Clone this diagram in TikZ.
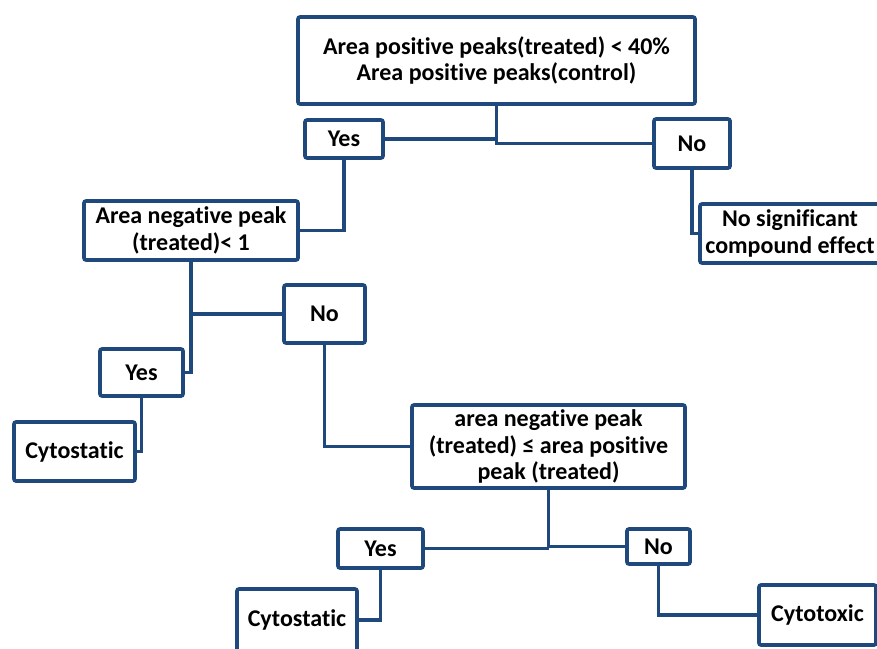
\documentclass[tikz,border=0pt]{standalone}
\usepackage{fontspec}
\setmainfont[Ligatures=NoCommon]{Carlito}
\usepackage{tikz}
\usepackage{xcolor}
\definecolor{boxblue}{RGB}{31,73,125}

\begin{document}
\begin{tikzpicture}[
    x=1pt, y=-1pt,
    decision/.style={
        draw=boxblue,
        line width=3.6pt,
        rounded corners=2pt,
        fill=white,
        inner sep=0pt,
        align=center,
        font=\bfseries\fontsize{24}{26.5}\selectfont
    },
    answer/.style={
        decision
    },
    outcome/.style={
        decision
    },
    branch/.style={draw=boxblue, line width=3.6pt}
]
    \useasboundingbox (0,0) rectangle (877,648);

    \node[decision, minimum width=397pt, minimum height=87pt] (posarea) at (496.5,60.5)
        {Area positive peaks(treated) {<} 40\%\\Area positive peaks(control)};
    \node[answer, minimum width=78pt, minimum height=38pt] (yesone) at (344,139) {Yes};
    \node[answer, minimum width=76pt, minimum height=49pt] (noone) at (692,143.5) {No};
    \node[outcome, minimum width=180pt, minimum height=59pt] (noeffect) at (790,233.5)
        {No significant\\compound effect};

    \node[decision, minimum width=214pt, minimum height=59pt] (negarea) at (191,230.5)
        {Area negative peak\\(treated){<} 1};
    \node[answer, minimum width=81pt, minimum height=58pt] (notwo) at (324.5,314) {No};
    \node[answer, minimum width=83pt, minimum height=47pt] (yestwo) at (141.5,372.5) {Yes};
    \node[outcome, minimum width=121pt, minimum height=59pt] (statone) at (74.5,451.5) {Cytostatic};

    \node[decision, minimum width=273pt, minimum height=83pt] (negpos) at (548.5,446.5)
        {area negative peak\\(treated) ≤ area positive\\peak (treated)};
    \node[answer, minimum width=85pt, minimum height=39pt] (yesthree) at (380.5,548.5) {Yes};
    \node[answer, minimum width=63pt, minimum height=35pt] (nothree) at (658.5,546.5) {No};
    \node[outcome, minimum width=120pt, minimum height=62pt] (stattwo) at (297,620) {Cytostatic};
    \node[outcome, minimum width=117pt, minimum height=60pt] (toxic) at (817.5,615) {Cytotoxic};

    \draw[branch] (posarea.south) |- (noone.west);
    \draw[branch] (yesone.east) -- (yesone.east -| posarea.south);
    \draw[branch] (noone.south) |- (noeffect.west);
    \draw[branch] (yesone.south) |- (negarea.east);

    \draw[branch] (negarea.south) |- (yestwo.east);
    \draw[branch] (notwo.west) -- (notwo.west -| negarea.south);
    \draw[branch] (yestwo.south) |- (statone.east);
    \draw[branch] (notwo.south) |- (negpos.west);

    \draw[branch] (negpos.south) |- (nothree.west);
    \draw[branch] (yesthree.east) -- (yesthree.east -| negpos.south);
    \draw[branch] (yesthree.south) |- (stattwo.east);
    \draw[branch] (nothree.south) |- (toxic.west);
\end{tikzpicture}
\end{document}
